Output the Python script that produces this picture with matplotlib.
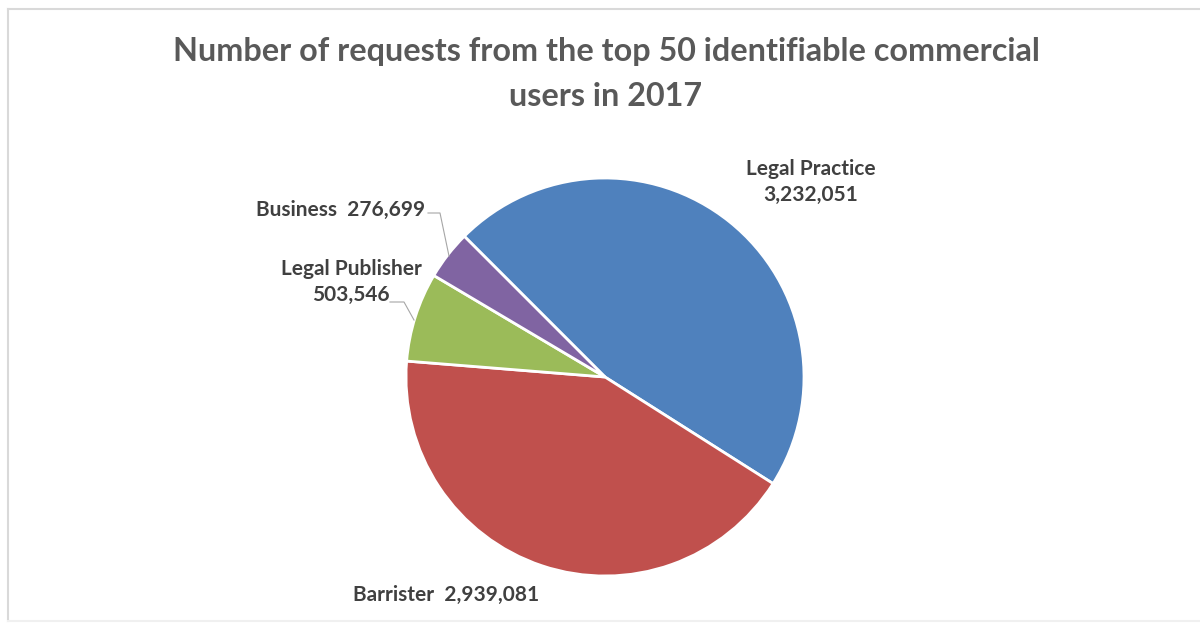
import matplotlib
matplotlib.use("Agg")
import matplotlib.pyplot as plt
from matplotlib.lines import Line2D

categories = ["Legal Practice", "Barrister", "Legal Publisher", "Business"]
values = [3232051, 2939081, 503546, 276699]
colors = ["#4F81BD", "#C0504D", "#9BBB59", "#8064A2"]
title = "Number of requests from the top 50 identifiable commercial\nusers in 2017"

W, H = 1200, 628
fig = plt.figure(figsize=(W / 100, H / 100), dpi=100)
fig.patch.set_facecolor("white")

# pie axes: center (605,377) px, radius 199 px
cx, cy, r = 605, 377, 199
ax = fig.add_axes([(cx - r) / W, (H - cy - r) / H, 2 * r / W, 2 * r / H])
ax.pie(values, colors=colors, startangle=135, counterclock=False,
       wedgeprops=dict(edgecolor="white", linewidth=2), radius=1.0)
ax.set_xlim(-1, 1)
ax.set_ylim(-1, 1)
ax.set_aspect("auto")
ax.axis("off")


def d(px, py):
    return ((px - cx) / r, (cy - py) / r)


font = "Lato"
lab_color = "#404040"
fs = 15
fmt = lambda v: f"{v:,}"

# labels
x, y = d(811, 182)
ax.text(x, y, f"{categories[0]}\n{fmt(values[0])}", ha="center", va="center",
        fontsize=fs, fontweight="bold", color=lab_color, family=font,
        linespacing=1.4, clip_on=False)
x, y = d(446, 595)
ax.text(x, y, f"{categories[1]}  {fmt(values[1])}", ha="center", va="center",
        fontsize=fs, fontweight="bold", color=lab_color, family=font, clip_on=False)
x, y = d(351, 282)
ax.text(x, y, f"{categories[2]}\n{fmt(values[2])}", ha="center", va="center",
        fontsize=fs, fontweight="bold", color=lab_color, family=font,
        linespacing=1.4, clip_on=False)
x, y = d(425, 210)
ax.text(x, y, f"{categories[3]}  {fmt(values[3])}", ha="right", va="center",
        fontsize=fs, fontweight="bold", color=lab_color, family=font, clip_on=False)

# leader lines
for pts in ([(428, 213), (440, 213), (449, 256)], [(390, 302), (404, 302), (414, 320)]):
    xs, ys = zip(*[d(px, py) for px, py in pts])
    ax.add_line(Line2D(xs, ys, color="#A6A6A6", linewidth=0.8, clip_on=False))

fig.text(606 / W, 1 - 74 / H, title, ha="center", va="center", fontsize=23.3,
         fontweight="bold", color="#595959", family=font, linespacing=1.65)

# chart frame
frame_col = "#D9D9D9"
fig.add_artist(Line2D([8 / W, 1], [1 - 9 / H, 1 - 9 / H], color=frame_col, lw=1.5))
fig.add_artist(Line2D([8 / W, 8 / W], [1 - 9 / H, 1 - 621 / H], color=frame_col, lw=1.5))
fig.add_artist(Line2D([8 / W, 1], [1 - 621 / H, 1 - 621 / H], color="#F0F0F0", lw=1.5))

fig.savefig("out.png", dpi=100, facecolor="white")
